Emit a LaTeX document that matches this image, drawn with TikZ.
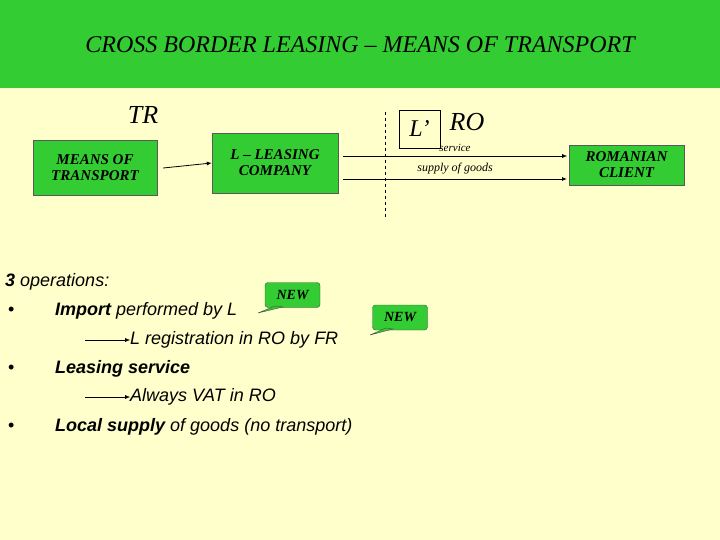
\documentclass[tikz,border=0pt]{standalone}
\usepackage{fontspec}
\setmainfont{Liberation Serif}
\newfontfamily\arial{Liberation Sans}
\usetikzlibrary{arrows.meta}
\definecolor{bg}{HTML}{FFFFCC}
\definecolor{gr}{HTML}{33CC33}
\begin{document}
\begin{tikzpicture}[x=1pt,y=-1pt,
  gbox/.style={draw=gray!70!black,fill=gr,font=\bfseries\itshape\fontsize{15}{16}\selectfont,align=center,inner sep=0pt},
  arr/.style={-{Latex[length=5pt,width=4pt]},thick},
  lst/.style={anchor=west,font=\arial\itshape\fontsize{18}{20}\selectfont,inner sep=0pt},
  newb/.style={draw=gray!60!black,fill=gr,rounded corners=3pt,font=\bfseries\itshape\fontsize{14}{15}\selectfont,minimum width=55pt,minimum height=25pt,inner sep=0pt}]
\fill[bg] (0,0) rectangle (720,540);
\fill[gr] (0,0) rectangle (720,88);
\useasboundingbox (0,0) rectangle (720,540);
\node[font=\itshape\fontsize{24}{26}\selectfont] (title) at (360,45) {CROSS BORDER LEASING -- MEANS OF TRANSPORT};
\node[font=\itshape\fontsize{26}{28}\selectfont] (tr) at (143,115) {TR};
\node[gbox,minimum width=124pt,minimum height=55pt] (mot) at (95,168) {MEANS OF\\TRANSPORT};
\node[gbox,minimum width=126pt,minimum height=60pt] (lc) at (275,163) {L -- LEASING\\COMPANY};
\node[gbox,minimum width=115pt,minimum height=40pt] (rc) at (626.5,165) {ROMANIAN\\CLIENT};
\draw[arr] (mot.east)++(6,0) -- (lc.west);
\coordinate (d1) at (385,112); \coordinate (d2) at (385,218);
\draw[dashed] (d1) -- (d2);
\node[draw,minimum width=41pt,minimum height=38pt,inner sep=0pt,font=\itshape\fontsize{24}{26}\selectfont] (lp) at (419.5,129) {L'};
\node[font=\itshape\fontsize{26}{28}\selectfont] (ro) at (467,122) {RO};
\coordinate (s1) at (343,156); \coordinate (s2) at (567,156);
\coordinate (g1) at (343,179); \coordinate (g2) at (567,179);
\draw[arr,thin] (s1) -- node[above=1pt,font=\itshape\fontsize{11}{12}\selectfont] (sl) {service} (s2);
\draw[arr] (g1) -- node[above=1pt,font=\itshape\fontsize{12}{13}\selectfont] (gl) {supply of goods} (g2);
\node[lst] (t0) at (5,282) {\bfseries 3\mdseries\ operations:};
\node[lst,font=\arial\fontsize{18}{20}\selectfont] (b1) at (8,311) {•};
\node[lst,font=\arial\fontsize{18}{20}\selectfont] (b2) at (8,369) {•};
\node[lst,font=\arial\fontsize{18}{20}\selectfont] (b3) at (8,427) {•};
\node[lst] (t1) at (55,311) {\bfseries Import\mdseries\ performed by L};
\node[lst] (t2) at (130,340) {L registration in RO by FR};
\node[lst] (t3) at (55,369) {\bfseries Leasing service};
\node[lst] (t4) at (130,397) {Always VAT in RO};
\node[lst] (t5) at (55,427) {\bfseries Local supply\mdseries\ of goods (no transport)};
\coordinate (a1) at (85,340); \coordinate (a4) at (85,397);
\draw[arr,thin] (a1) -- (t2.west);
\draw[arr,thin] (a4) -- (t4.west);
\node[newb] (n1) at (292.5,295) {NEW};
\node[newb] (n2) at (400,317.5) {NEW};
\draw[fill=gr,draw=gray!60!black] (275,306) -- (258,313) -- (283,307) -- cycle;
\draw[fill=gr,draw=gray!60!black] (386,328) -- (370,335) -- (393,329) -- cycle;
\end{tikzpicture}
\end{document}
